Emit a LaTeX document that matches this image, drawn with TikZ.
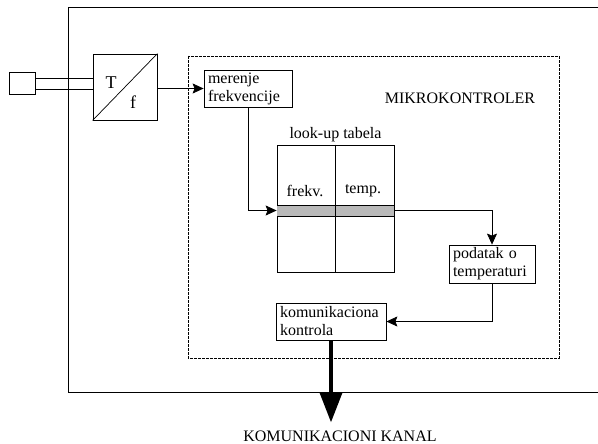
\documentclass[tikz,border=0pt]{standalone}
\usepackage{fontspec}
\setmainfont{Liberation Serif}
\usetikzlibrary{positioning, arrows.meta}
\definecolor{rasterg}{RGB}{185, 185, 185}

\tikzset{
  blok/.style={draw, line width=0.8pt, inner xsep=4pt, inner ysep=2pt,
               align=left, font=\fontsize{16}{18}\selectfont},
  natpis/.style={inner sep=0pt, font=\fontsize{16}{18}\selectfont},
  veza/.style={line width=0.7pt, -{Stealth[length=11pt, width=10pt, inset=2pt]}},
}

\begin{document}
\begin{tikzpicture}[x=1pt, y=-1pt]
    \useasboundingbox (0,0) rectangle (598,444);

    % Outer frame (open to the right)
    \draw[line width=0.8pt] (598,7) -| (68,392) -- (598,392);

    % Microcontroller frame
    \draw[line width=0.7pt, dash pattern=on 3pt off 1pt] (188,56) rectangle (559,358);
    \node[natpis] (mk) at (460,98) {MIKROKONTROLER};

    % Sensor and T/f converter
    \node[draw, line width=0.8pt, minimum width=26pt, minimum height=22pt, inner sep=0pt]
         (senzor) at (22,83) {};
    \node[draw, line width=0.8pt, minimum width=64pt, minimum height=66pt, inner sep=0pt]
         (tf) at (125,87) {};
    \draw[line width=0.7pt] (tf.south west) -- (tf.north east);
    \node[natpis, font=\fontsize{18}{18}\selectfont] (tT) at (111,83) {T};
    \node[natpis, font=\fontsize{18}{18}\selectfont] (tf2) at (133,102) {f};
    \draw[line width=0.7pt] ([yshift=5pt]senzor.east) -- ([yshift=5pt]senzor.east -| tf.west);
    \draw[line width=0.7pt] ([yshift=-6pt]senzor.east) -- ([yshift=-6pt]senzor.east -| tf.west);

    % Blocks
    \node[blok, text width=80pt, minimum height=37pt] (merenje) at (248,88.5)
         {merenje\\frekvencije};
    \node[blok, text width=78pt, minimum height=38pt] (podatak) at (492,264)
         {podatak o\\temperaturi};
    \node[blok, text width=102pt, minimum height=37pt] (kom) at (331,321.5)
         {komunikaciona\\kontrola};

    % Look-up table
    \node[natpis] (lut) at (335.5,135) {look-up tabela};
    \node[draw, line width=0.8pt, minimum width=117pt, minimum height=127pt, inner sep=0pt]
         (tabela) at (335.5,208.5) {};
    \fill[rasterg] (277,205) rectangle (394,216);
    \draw[line width=0.6pt] (277,205) -- (394,205);
    \draw[line width=0.8pt] (277,216) -- (394,216);
    \draw[line width=0.7pt] (tabela.north) -- (tabela.south);
    \node[natpis] (frekv) at (305,191) {frekv.};
    \node[natpis] (temp) at (363,191) {temp.};
    \coordinate (red) at (300,210.5);

    % Connections
    \draw[veza] (tf.east |- merenje.west) -- (merenje.west);
    \draw[veza] (merenje.south) |- (tabela.west |- red);
    \draw[veza] (tabela.east |- red) -| (podatak.north);
    \draw[veza] (podatak.south) |- (kom.east);

    % Communication channel
    \node[natpis] (kanal) at (340,436) {KOMUNIKACIONI KANAL};
    \draw[line width=4pt, -{Triangle[length=30pt, width=22pt]}, shorten >=8pt]
         (kom.south) -- (kom.south |- kanal.north);
\end{tikzpicture}
\end{document}
